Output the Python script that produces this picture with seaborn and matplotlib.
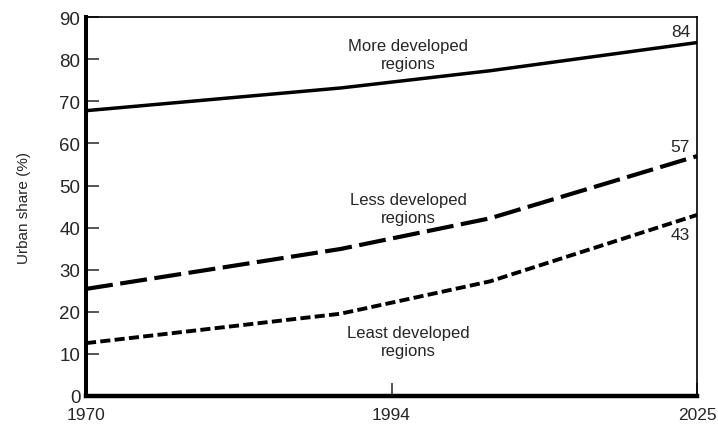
import numpy as np
import pandas as pd
import matplotlib
matplotlib.use("Agg")
import matplotlib.pyplot as plt
import seaborn as sns

# ---- data ----
years = [1970, 1990, 2004, 2025]
more_developed = [67.8, 73.2, 77.3, 84]
less_developed = [25.4, 34.9, 42.2, 57]
least_developed = [12.5, 19.5, 27.2, 43]
end_labels = ["84", "57", "43"]
series_names = ["More developed\nregions", "Less developed\nregions", "Least developed\nregions"]
x_ticks = [1970, 1994, 2025]
y_ticks = list(range(0, 91, 10))

sns.set_style("ticks")
plt.rcParams["font.family"] = ["Liberation Sans", "DejaVu Sans"]

fig = plt.figure(figsize=(7.18, 4.27), dpi=100)
ax = fig.add_axes([0.1198, 0.071, 0.851, 0.886])


# piecewise-linear year axis (1994 sits in the middle of the axis)
def fwd(x):
    x = np.asarray(x, dtype=float)
    return np.where(x <= 1994, (x - 1970) / 48.0, 0.5 + (x - 1994) / 62.0)


def inv(u):
    u = np.asarray(u, dtype=float)
    return np.where(u <= 0.5, 1970 + 48.0 * u, 1994 + 62.0 * (u - 0.5))


ax.set_xscale("function", functions=(fwd, inv))

df = pd.DataFrame({"year": years, "more": more_developed,
                   "less": less_developed, "least": least_developed})

sns.lineplot(data=df, x="year", y="more", ax=ax, color="black",
             linewidth=2.5, solid_capstyle="butt")
sns.lineplot(data=df, x="year", y="less", ax=ax, color="black",
             linewidth=3.0, linestyle=(0, (6.5, 1.8)), dash_capstyle="butt")
sns.lineplot(data=df, x="year", y="least", ax=ax, color="black",
             linewidth=2.8, linestyle=(0, (2.6, 1.1)), dash_capstyle="butt")

ax.set_xlim(1970, 2025)
ax.set_ylim(0, 90)
ax.set_xticks(x_ticks)
ax.set_xticklabels([str(t) for t in x_ticks])
ax.set_yticks(y_ticks)
ax.set_xlabel("")
ax.set_ylabel("Urban share (%)", fontsize=11)
ax.yaxis.set_label_coords(-0.09, 0.5)

ax.tick_params(axis="y", direction="in", length=9, width=1.1, labelsize=13.5,
               pad=4, left=True, right=False)
ax.tick_params(axis="x", direction="in", length=9.5, width=1.1, labelsize=12.5,
               pad=8, top=False)

for side, lw in [("left", 2.9), ("bottom", 3.2), ("right", 1.2), ("top", 1.2)]:
    ax.spines[side].set_visible(True)
    ax.spines[side].set_linewidth(lw)
    ax.spines[side].set_color("black")

# series labels
label_pos = [(0.527, 0.903), (0.527, 0.495), (0.527, 0.143)]
for name, (lx, ly) in zip(series_names, label_pos):
    ax.text(lx, ly, name, transform=ax.transAxes, ha="center", va="center",
            fontsize=12, linespacing=1.25)

# end values
end_vals = [more_developed[-1], less_developed[-1], least_developed[-1]]
offsets = [8, 7, -14]
for txt, v, off in zip(end_labels, end_vals, offsets):
    ax.annotate(txt, xy=(years[-1], v), xytext=(-5, off),
                textcoords="offset points", ha="right", va="center",
                fontsize=12.5)

fig.savefig("out.png", dpi=100, facecolor="white")
